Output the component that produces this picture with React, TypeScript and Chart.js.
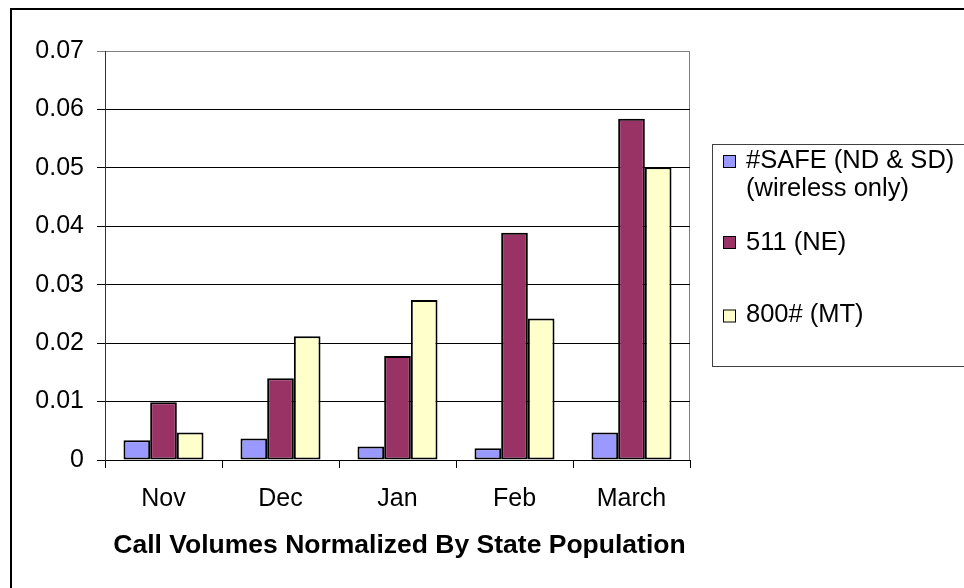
import React, { useEffect, useRef } from "react";
import { Chart, registerables } from "chart.js";

Chart.register(...registerables);

const categories = ["Nov", "Dec", "Jan", "Feb", "March"];
const safeValues = [0.0034, 0.0037, 0.0023, 0.002, 0.0047];
const ne511Values = [0.0099, 0.014, 0.0178, 0.0389, 0.0584];
const mt800Values = [0.0047, 0.0212, 0.0274, 0.0242, 0.0501];
const seriesNames = ["#SAFE (ND & SD)", "511 (NE)", "800# (MT)"];
const legendLines = [["#SAFE (ND & SD)", "(wireless only)"], ["511 (NE)"], ["800# (MT)"]];
const chartTitle = "Call Volumes Normalized By State Population";
const colors = ["#9999FF", "#993366", "#FFFFCC"];

const FONT = "'Liberation Sans', Arial, sans-serif";

const decorPlugin = {
  id: "decor",
  beforeDraw(chart: any) {
    const ctx = chart.ctx;
    const a = chart.chartArea;
    ctx.save();
    ctx.strokeStyle = "#000";
    ctx.lineWidth = 2;
    ctx.strokeRect(11, 9, 2000, 2000);
    ctx.strokeStyle = "#808080";
    ctx.lineWidth = 1;
    ctx.strokeRect(a.left + 0.5, a.top + 0.5, a.right - a.left - 1, a.bottom - a.top);
    ctx.restore();
  },
  afterDraw(chart: any) {
    const ctx = chart.ctx;
    const a = chart.chartArea;
    ctx.save();
    ctx.fillStyle = "#000";
    ctx.font = `bold 26.5px ${FONT}`;
    ctx.textAlign = "center";
    ctx.textBaseline = "alphabetic";
    ctx.fillText(chartTitle, (a.left + a.right) / 2 + 2, 553);
    ctx.strokeStyle = "#404040";
    ctx.lineWidth = 1;
    ctx.fillStyle = "#fff";
    ctx.fillRect(712.5, 144.5, 400, 222);
    ctx.strokeRect(712.5, 144.5, 400, 222);
    const markerY = [161, 242, 315.5];
    const textY = [[161, 189], [243], [315]];
    ctx.font = `25.5px ${FONT}`;
    ctx.textAlign = "left";
    ctx.textBaseline = "middle";
    for (let i = 0; i < seriesNames.length; i++) {
      ctx.fillStyle = colors[i];
      ctx.fillRect(723, markerY[i] - 6, 12, 12);
      ctx.strokeStyle = "#000";
      ctx.strokeRect(723.5, markerY[i] - 5.5, 12, 12);
      ctx.fillStyle = "#000";
      legendLines[i].forEach((t, j) => ctx.fillText(t, 746, textY[i][j]));
    }
    ctx.restore();
  },
};

export default function App() {
  const ref = useRef<HTMLCanvasElement>(null);
  useEffect(() => {
    if (!ref.current) return;
    const data = [safeValues, ne511Values, mt800Values];
    const chart = new Chart(ref.current, {
      type: "bar",
      data: {
        labels: categories,
        datasets: data.map((d, i) => ({
          label: seriesNames[i],
          data: d,
          backgroundColor: colors[i],
          borderColor: "#000",
          borderWidth: 2,
          borderSkipped: false,
          categoryPercentage: 0.684,
          barPercentage: 1,
        })),
      },
      options: {
        animation: false,
        responsive: false,
        maintainAspectRatio: false,
        devicePixelRatio: 1,
        layout: { padding: { left: 0, right: 274, top: 51, bottom: 68 } },
        plugins: { legend: { display: false }, title: { display: false }, tooltip: { enabled: false } },
        scales: {
          x: {
            grid: { display: true, drawOnChartArea: false, drawTicks: true, tickLength: 8, color: "#000", offset: true },
            border: { display: true, color: "#000", width: 1 },
            ticks: { color: "#000", font: { family: FONT, size: 25 }, padding: 16, maxRotation: 0 },
            afterFit(scale: any) { scale.height = 60; },
          },
          y: {
            min: 0,
            max: 0.07,
            ticks: {
              stepSize: 0.01,
              color: "#000",
              font: { family: FONT, size: 25 },
              padding: 13,
              callback: (v: any) => (Number(v) === 0 ? "0" : Number(v).toFixed(2)),
            },
            grid: {
              color: (c: any) => (c.tick && Math.abs(c.tick.value - 0.07) < 1e-9 ? "#808080" : "#000"),
              tickLength: 8,
              drawTicks: true,
            },
            border: { display: true, color: "#333", width: 1 },
            afterFit(scale: any) { scale.width = 105; },
          },
        },
      },
      plugins: [decorPlugin],
    });
    return () => chart.destroy();
  }, []);
  return (
    <div style={{ position: "fixed", left: 0, top: 0, width: 964, height: 588, overflow: "hidden", background: "#fff" }}>
      <canvas ref={ref} width={964} height={588} style={{ width: 964, height: 588, display: "block" }} />
    </div>
  );
}
